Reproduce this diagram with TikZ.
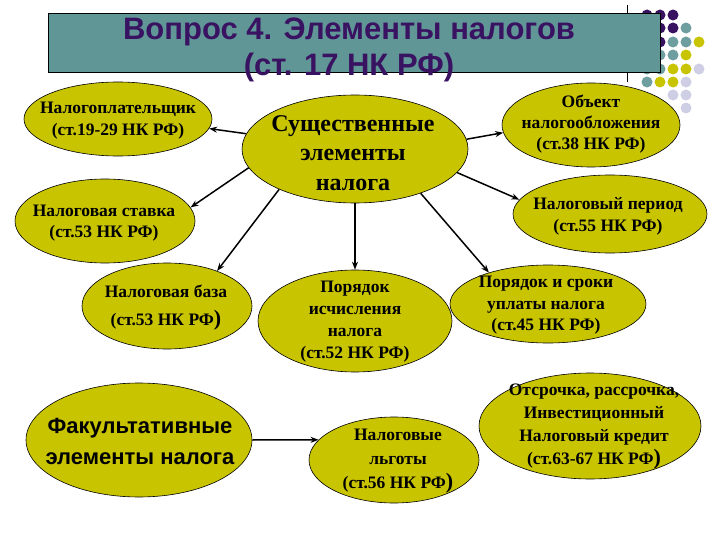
\documentclass[tikz,border=0pt]{standalone}
\usepackage{fontspec}
\setmainfont{Liberation Serif}
\newfontfamily\arialfont{Liberation Sans}
\usetikzlibrary{shapes.geometric,arrows.meta}

\definecolor{elfill}{RGB}{200,196,0}
\definecolor{titlefill}{RGB}{96,150,150}
\definecolor{titletext}{RGB}{58,18,98}
\definecolor{dotpurple}{RGB}{58,18,98}
\definecolor{dotteal}{RGB}{110,158,160}
\definecolor{dotyellow}{RGB}{200,196,0}
\definecolor{dotlav}{RGB}{206,206,228}

\newcommand{\bigpar}{{\fontsize{22}{22}\selectfont)}}

\begin{document}
\begin{tikzpicture}[x=1pt, y=-1pt,
  ell/.style 2 args={ellipse, draw=black, line width=0.6pt, fill=elfill, inner sep=0pt, minimum width=#1, minimum height=#2},
  lbl/.style={align=center, inner sep=0pt, font=\bfseries\fontsize{17.5}{#1}\selectfont},
  arr/.style={-{Stealth[length=8pt,width=6pt]}, line width=1.5pt}]
\useasboundingbox (0,0) rectangle (720,540);

% Pallini decorativi in alto a destra
\fill[dotpurple] (647,15) circle (5.5pt) (660,15) circle (5.5pt) (673,15) circle (5.5pt)
  (647,28) circle (5.5pt) (660,28) circle (5.5pt) (673,28) circle (5.5pt)
  (647,42) circle (5.5pt) (660,42) circle (5.5pt) (647,55) circle (5.5pt);
\fill[dotteal] (686,28) circle (5.5pt) (673,42) circle (5.5pt) (686,42) circle (5.5pt)
  (660,55) circle (5.5pt) (673,55) circle (5.5pt) (647,69) circle (5.5pt)
  (660,69) circle (5.5pt) (647,82) circle (5.5pt);
\fill[dotyellow] (699,42) circle (5.5pt) (686,55) circle (5.5pt) (673,69) circle (5.5pt)
  (686,69) circle (5.5pt) (660,82) circle (5.5pt) (673,82) circle (5.5pt);
\fill[dotlav] (699,69) circle (5.5pt) (686,82) circle (5.5pt) (673,95) circle (5.5pt)
  (686,95) circle (5.5pt) (686,108) circle (5.5pt);
\draw[line width=0.6pt] (627,5) -- (627,82);

% Titolo
\draw[line width=0.6pt, fill=titlefill] (48,13) rectangle (660,72);
\node[align=center, inner sep=0pt, text=titletext, font=\arialfont\bfseries\fontsize{31}{36}\selectfont]
  (title) at (349,50) {Вопрос 4. Элементы налогов\\(ст. 17 НК РФ)};

% Ellissi
\node[ell={226pt}{108pt}] (ess) at (355,149) {};
\node[ell={188pt}{74pt}] (payer) at (118,119) {};
\node[ell={180pt}{84pt}] (rate) at (105,221) {};
\node[ell={170pt}{86pt}] (base) at (167,306) {};
\node[ell={226pt}{114pt}] (opt) at (139,440) {};
\node[ell={178pt}{84pt}] (object) at (591,125) {};
\node[ell={194pt}{78pt}] (period) at (610,214) {};
\node[ell={194pt}{102pt}] (calc) at (355,321) {};
\node[ell={196pt}{78pt}] (pay) at (548,304) {};
\node[ell={170pt}{86pt}] (relief) at (394,460) {};
\node[ell={222pt}{106pt}] (defer) at (590,426) {};

% Testi
\node[align=center, inner sep=0pt, font=\bfseries\fontsize{24}{29.5}\selectfont]
  (ess-t) at (353,153) {Существенные\\элементы\\налога};
\node[lbl=22] (payer-t) at (118,121) {Налогоплательщик\\(ст.19-29 НК РФ)};
\node[lbl=21] (rate-t) at (104,223.5) {Налоговая ставка\\(ст.53 НК РФ)};
\node[lbl=28] (base-t) at (166,308) {Налоговая база\\(ст.53 НК РФ\bigpar};
\node[align=center, inner sep=0pt, font=\arialfont\bfseries\fontsize{22}{31}\selectfont]
  (opt-t) at (140,441) {Факультативные\\элементы налога};
\node[lbl=21] (object-t) at (591,124) {Объект\\налогообложения\\(ст.38 НК РФ)};
\node[lbl=22] (period-t) at (608,216) {Налоговый период\\(ст.55 НК РФ)};
\node[lbl=22] (calc-t) at (355,322) {Порядок\\исчисления\\налога\\(ст.52 НК РФ)};
\node[lbl=21.5] (pay-t) at (546,305.5) {Порядок и сроки\\уплаты налога\\(ст.45 НК РФ)};
\node[lbl=24] (relief-t) at (398,461) {Налоговые\\льготы\\(ст.56 НК РФ\bigpar};
\node[lbl=23] (defer-t) at (594,427) {Отсрочка, рассрочка,\\Инвестиционный\\Налоговый кредит\\(ст.63-67 НК РФ\bigpar};

% Frecce
\draw[arr] (ess.172) -- (payer.-6);
\draw[arr] (ess.190) -- (rate.9);
\draw[arr] (ess.208) -- (base.35);
\draw[arr] (ess.south) -- (calc.north);
\draw[arr] (ess.5) -- (object.185);
\draw[arr] (ess.-13) -- (period.171);
\draw[arr] (ess.-34) -- (pay.152);
\draw[arr] (opt.east) -- (relief.165);
\end{tikzpicture}
\end{document}
